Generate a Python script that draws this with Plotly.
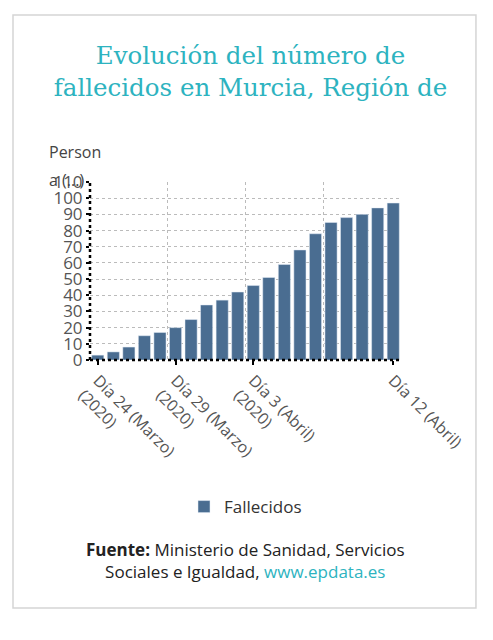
import plotly.graph_objects as go

days = ["Día 24 (Marzo) (2020)", "Día 25 (Marzo) (2020)", "Día 26 (Marzo) (2020)", "Día 27 (Marzo) (2020)",
        "Día 28 (Marzo) (2020)", "Día 29 (Marzo) (2020)", "Día 30 (Marzo) (2020)", "Día 31 (Marzo) (2020)",
        "Día 1 (Abril) (2020)", "Día 2 (Abril) (2020)", "Día 3 (Abril) (2020)", "Día 4 (Abril) (2020)",
        "Día 5 (Abril) (2020)", "Día 6 (Abril) (2020)", "Día 7 (Abril) (2020)", "Día 8 (Abril) (2020)",
        "Día 9 (Abril) (2020)", "Día 10 (Abril) (2020)", "Día 11 (Abril) (2020)", "Día 12 (Abril)"]
fallecidos = [3, 5, 8, 15, 17, 20, 25, 34, 37, 42, 46, 51, 59, 68, 78, 85, 88, 90, 94, 97]
tick_idx = [0, 5, 10, 19]
tick_labels = ["Día 24 (Marzo)<br>(2020)", "Día 29 (Marzo)<br>(2020)", "Día 3 (Abril)<br>(2020)", "Día 12 (Abril)"]
grid_x = [4.5, 9.5, 14.5, 19.5]

x = list(range(len(days)))

fig = go.Figure()
fig.add_trace(go.Bar(x=x, y=fallecidos, name="Fallecidos", marker_color="#4a6d91",
                     width=0.78, hovertext=days))
# invisible trace to enable the gridline axis
fig.add_trace(go.Scatter(x=[grid_x[0]], y=[0], xaxis="x2", mode="markers",
                         marker=dict(opacity=0), showlegend=False, hoverinfo="skip"))

fig.update_layout(
    width=485, height=632, autosize=False,
    paper_bgcolor="white", plot_bgcolor="white",
    margin=dict(l=82, r=92, t=174, b=280, autoexpand=False),
    font=dict(family="Open Sans", color="#555555"),
    title=dict(text="Evolución del número de<br>fallecidos en Murcia, Región de",
               x=0.5, xanchor="center", y=0.911, yanchor="top",
               font=dict(family="DejaVu Serif", size=24.5, color="#2db3c0")),
    xaxis=dict(range=[-0.5, 19.5], tickmode="array", tickvals=tick_idx, ticktext=tick_labels,
               tickangle=45, tickfont=dict(size=16, color="#555555"),
               showgrid=False, zeroline=False, showline=False, automargin=False,
               ticks="outside", ticklen=4, tickwidth=2, tickcolor="black"),
    xaxis2=dict(range=[-0.5, 19.5], overlaying="x", tickmode="array", tickvals=grid_x,
                showticklabels=False, showgrid=True, gridcolor="#bbbbbb", griddash="dot",
                gridwidth=1, zeroline=False, showline=False),
    yaxis=dict(range=[0, 110], dtick=10, tickfont=dict(size=17, color="#555555"),
               showgrid=True, gridcolor="#bbbbbb", griddash="dot", gridwidth=1, automargin=False,
               zeroline=False, showline=False, ticks="outside", ticklen=3, tickwidth=2,
               tickcolor="black"),
    legend=dict(orientation="h", x=0.5, xanchor="center", y=-0.826, yanchor="middle",
                font=dict(size=17, color="#333333")),
    showlegend=True,
)

fig.add_annotation(text="Person", xref="paper", yref="paper", x=-0.138, y=1.169,
                   xanchor="left", yanchor="middle", align="left", showarrow=False,
                   font=dict(size=16, color="#444444"))
fig.add_annotation(text="a (...)", xref="paper", yref="paper", x=-0.138, y=1.011,
                   xanchor="left", yanchor="middle", align="left", showarrow=False,
                   font=dict(size=16, color="#444444"))
fig.add_annotation(text="<b>Fuente:</b> Ministerio de Sanidad, Servicios<br>Sociales e Igualdad, "
                        "<span style='color:#2db3c0'>www.epdata.es</span>",
                   xref="paper", yref="paper", x=0.5, y=-1.124, xanchor="center", yanchor="middle",
                   showarrow=False, align="center", font=dict(size=17, color="#222222"))

# card border
fig.add_shape(type="rect", xref="paper", yref="paper", x0=-0.2476, x1=1.241, y0=-1.393, y1=1.938,
              line=dict(color="#d5d5d5", width=1.5), layer="below")
# dotted black axis lines
fig.add_shape(type="line", xref="paper", yref="paper", x0=0, x1=0, y0=0, y1=1,
              line=dict(color="black", width=2.5, dash="dot"))
fig.add_shape(type="line", xref="paper", yref="paper", x0=0, x1=1, y0=0, y1=0,
              line=dict(color="black", width=2.5, dash="dot"))

fig.write_html("out.html")
